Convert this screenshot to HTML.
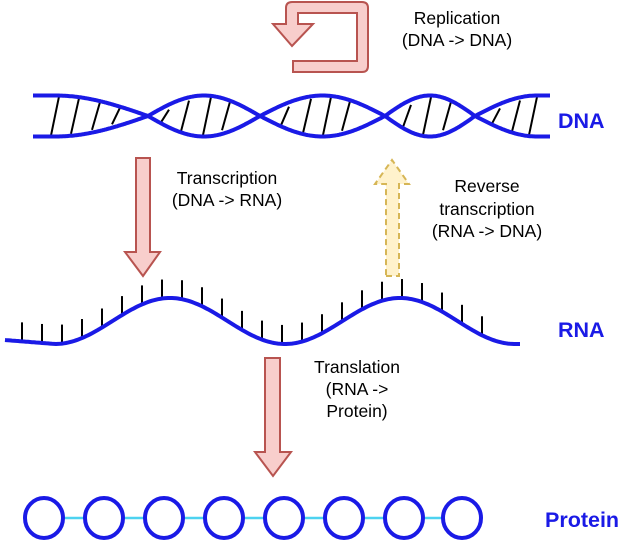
<!DOCTYPE html>
<html><head><meta charset="utf-8"><style>
html,body{margin:0;padding:0;background:#fff;}
svg text{font-family:"Liberation Sans",sans-serif;}
</style></head><body>
<svg id="s" width="620" height="540" viewBox="0 0 620 540" xmlns="http://www.w3.org/2000/svg">
<path d="M293,61 L357,61 L357,13 L298,13 L298,24 L313,24 L292,46 L273,24 L286,24 L286,8 Q286,2 292,2 L362,2 Q368,2 368,8 L368,66 Q368,72 362,72 L293,72 Z" fill="#f8cecc" stroke="#b85450" stroke-width="2"/>
<g font-size="17.5" text-anchor="middle">
<text x="457" y="24">Replication</text>
<text x="457" y="46">(DNA -&gt; DNA)</text>
<text x="227" y="184">Transcription</text>
<text x="227" y="206">(DNA -&gt; RNA)</text>
<text x="487" y="192">Reverse</text>
<text x="487" y="215">transcription</text>
<text x="487" y="237">(RNA -&gt; DNA)</text>
<text x="357" y="373">Translation</text>
<text x="357" y="395">(RNA -&gt;</text>
<text x="357" y="417">Protein)</text>
</g>
<g id="dna"></g>
<text x="558" y="128" font-size="21.5" font-weight="bold" fill="#1a1ae6">DNA</text>
<path d="M136,158 L150,158 L150,252 L160,252 L143,276 L125,252 L136,252 Z" fill="#f8cecc" stroke="#b85450" stroke-width="2"/>
<path d="M386,276 L399,276 L399,184 L409,184 L392,160 L375,184 L386,184 Z" fill="#fff2cc" stroke="#d6b656" stroke-width="2" stroke-dasharray="6 4"/>
<g id="rna"></g>
<text x="558" y="337" font-size="21.5" font-weight="bold" fill="#1a1ae6">RNA</text>
<path d="M265,358 L280,358 L280,452 L291,452 L273,476 L255,452 L265,452 Z" fill="#f8cecc" stroke="#b85450" stroke-width="2"/>
<line x1="44" y1="518" x2="462" y2="518" stroke="#4dd2f0" stroke-width="2.5"/>
<g fill="#fff" stroke="#1a1ae6" stroke-width="4">
<ellipse cx="44" cy="518" rx="19" ry="20"/><ellipse cx="104" cy="518" rx="19" ry="20"/>
<ellipse cx="164" cy="518" rx="19" ry="20"/><ellipse cx="224" cy="518" rx="19" ry="20"/>
<ellipse cx="284" cy="518" rx="19" ry="20"/><ellipse cx="344" cy="518" rx="19" ry="20"/>
<ellipse cx="404" cy="518" rx="19" ry="20"/><ellipse cx="462" cy="518" rx="19" ry="20"/>
</g>
<text x="545" y="527" font-size="21.5" font-weight="bold" fill="#1a1ae6">Protein</text>
</svg>
<script>
var NS="http://www.w3.org/2000/svg";
function mk(tag,attrs,parent){var e=document.createElementNS(NS,tag);for(var k in attrs)e.setAttribute(k,attrs[k]);parent.appendChild(e);return e;}
var C=[33,148,260,385,475,550];
function off(x){
 if(x<=148){var t=Math.max(0,(x-55)/93);return -20.5*Math.cos(Math.PI/2*t);}
 if(x>=475){var t=Math.min(1,(x-475)/62);return -20.5*Math.sin(Math.PI/2*t);}
 for(var i=1;i<4;i++){if(x>=C[i]&&x<=C[i+1]){var s=Math.sin(Math.PI*(x-C[i])/(C[i+1]-C[i]));return (i%2==1?1:-1)*20.5*s;}}
 return 0;}
var dg=document.getElementById("dna");
[55,75,96,116,165,185,207,226,285,307,327,346,407,427,447,496,516,533].forEach(function(x){
 var h=Math.min(Math.abs(off(x-4)),Math.abs(off(x+4)))-1;
 if(h>3)mk("line",{x1:x-4,y1:116+h,x2:x+4,y2:116-h,stroke:"#000","stroke-width":2},dg);
});
var da="M33,"+(116+off(33)),db="M33,"+(116-off(33));
for(var x=34;x<=550;x+=1){da+=" L"+x+","+(116+off(x)).toFixed(1);db+=" L"+x+","+(116-off(x)).toFixed(1);}
mk("path",{d:da,fill:"none",stroke:"#1a1ae6","stroke-width":4},dg);
mk("path",{d:db,fill:"none",stroke:"#1a1ae6","stroke-width":4},dg);
function y(x){var xx=Math.max(55,Math.min(515,x));var v=321-23*Math.cos(2*Math.PI*(xx-170)/230);if(x<55)v=v-(55-x)*0.08;return v;}
var g=document.getElementById("rna");var d="M5,"+y(5).toFixed(1);
for(var x=6;x<=520;x+=2)d+=" L"+x+","+y(x).toFixed(1);
for(var x=22;x<=500;x+=20)mk("line",{x1:x,x2:x,y1:y(x),y2:y(x)-19,stroke:"#000","stroke-width":2},g);
mk("path",{d:d,fill:"none",stroke:"#1a1ae6","stroke-width":4},g);
</script>
</body></html>
